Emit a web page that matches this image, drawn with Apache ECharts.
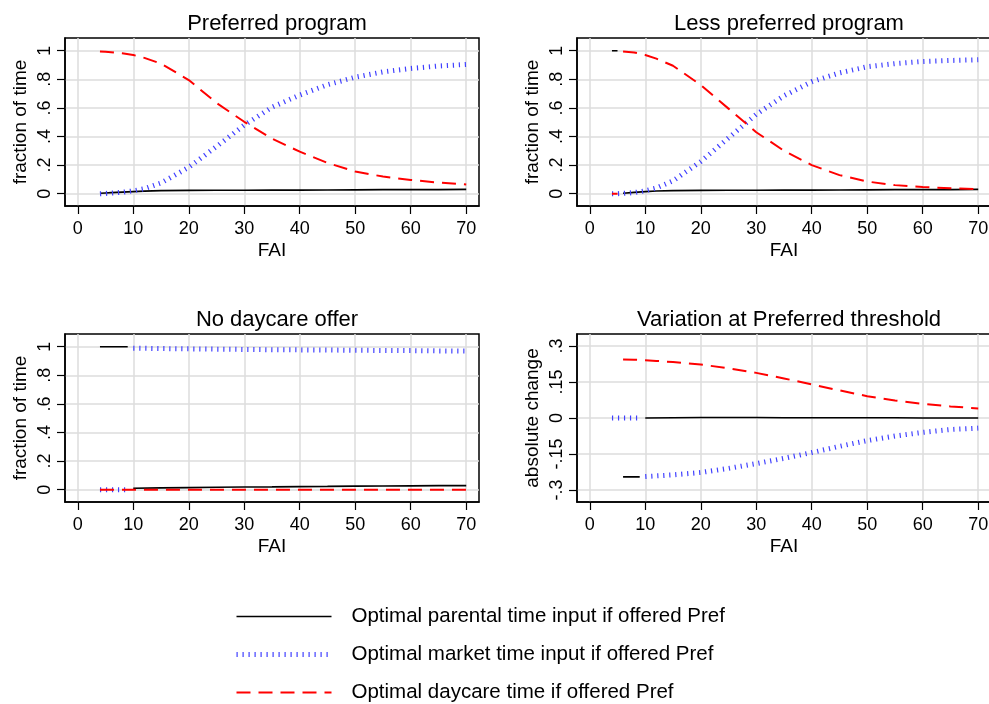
<!DOCTYPE html>
<html>
<head>
<meta charset="utf-8">
<script src="https://cdn.jsdelivr.net/npm/echarts@6/dist/echarts.min.js"></script>
<style>
html, body { margin: 0; padding: 0; background: #fff; }
#chart { width: 989px; height: 704px; }
</style>
</head>
<body>
<div id="chart"></div>
<script>
// FAI grids
var faiA = [4, 5, 6, 8, 10, 12, 15, 20, 25, 30, 35, 40, 45, 50, 55, 60, 65, 70];
var faiB = [6, 8, 10, 12, 15, 20, 25, 30, 35, 40, 45, 50, 55, 60, 65, 70];
var faiC = [10, 15, 20, 25, 30, 35, 40, 45, 50, 55, 60, 65, 70];
var faiLowA = [4, 5];
var faiLowB = [4, 5, 6, 7, 8, 9];
var faiLowC = [6, 7, 8, 9];

// Preferred program
var p1Parent = [0.003, 0.005, 0.007, 0.011, 0.015, 0.018, 0.021, 0.023, 0.024, 0.024, 0.025, 0.025, 0.026, 0.027, 0.028, 0.028, 0.029, 0.03];
var p1Market = [0, 0.002, 0.004, 0.01, 0.02, 0.035, 0.075, 0.185, 0.33, 0.48, 0.605, 0.69, 0.762, 0.815, 0.852, 0.876, 0.893, 0.904];
var p1Daycare = [0.995, 0.993, 0.99, 0.982, 0.97, 0.95, 0.91, 0.795, 0.635, 0.503, 0.385, 0.294, 0.215, 0.155, 0.12, 0.096, 0.078, 0.065];

// Less preferred program
var p2ParentLow = [1, 1];
var p2Parent = [0.003, 0.009, 0.015, 0.019, 0.022, 0.023, 0.024, 0.024, 0.025, 0.025, 0.026, 0.027, 0.028, 0.028, 0.029, 0.03];
var p2MarketLow = [0, 0];
var p2Market = [0.002, 0.008, 0.02, 0.04, 0.09, 0.225, 0.39, 0.555, 0.685, 0.783, 0.845, 0.888, 0.91, 0.925, 0.932, 0.937];
var p2DaycareLow = [0, 0];
var p2Daycare = [0.995, 0.988, 0.97, 0.945, 0.895, 0.76, 0.595, 0.43, 0.3, 0.2, 0.13, 0.085, 0.06, 0.047, 0.038, 0.032];

// No daycare offer
var p3ParentLow = [1, 1, 1, 1, 1, 1];
var p3Parent = [0.01, 0.013, 0.015, 0.017, 0.019, 0.02, 0.022, 0.023, 0.025, 0.026, 0.027, 0.028, 0.029];
var p3MarketLow = [0, 0, 0, 0, 0, 0];
var p3Market = [0.99, 0.987, 0.985, 0.983, 0.981, 0.979, 0.978, 0.977, 0.975, 0.974, 0.973, 0.971, 0.97];
var p3DaycareLow = [0, 0, 0, 0, 0, 0];
var p3Daycare = [0, 0, 0, 0, 0, 0, 0, 0, 0, 0, 0, 0, 0];

// Variation at Preferred threshold
var p4ParentLow = [-0.245, -0.245, -0.245, -0.245];
var p4Parent = [0, 0.001, 0.002, 0.002, 0.002, 0.001, 0.001, 0.001, 0.001, 0.001, 0, 0, 0];
var p4MarketLow = [0, 0, 0, 0, 0, 0];
var p4Market = [-0.244, -0.237, -0.227, -0.21, -0.19, -0.168, -0.144, -0.118, -0.094, -0.075, -0.06, -0.048, -0.042];
var p4Daycare = [0.244, 0.243, 0.241, 0.238, 0.233, 0.223, 0.207, 0.188, 0.165, 0.14, 0.115, 0.091, 0.073, 0.059, 0.048, 0.04];

var titles = ['Preferred program', 'Less preferred program', 'No daycare offer', 'Variation at Preferred threshold'];
var yNames = ['fraction of time', 'fraction of time', 'fraction of time', 'absolute change'];
var xTicks = [0, 10, 20, 30, 40, 50, 60, 70];
var yTicksFrac = [0, 0.2, 0.4, 0.6, 0.8, 1];
var yTicksChange = [-0.3, -0.15, 0, 0.15, 0.3];
var names = ['Optimal parental time input if offered Pref', 'Optimal market time input if offered Pref', 'Optimal daycare time if offered Pref'];

function zip(xs, ys) {
    var out = [];
    for (var i = 0; i < xs.length; i++) out.push([xs[i], ys[i]]);
    return out;
}
// two pieces with a gap between them
function joined(xs1, ys1, xs2, ys2) {
    var a = zip(xs1, ys1);
    a.push([xs1[xs1.length - 1], null]);
    return a.concat(zip(xs2, ys2));
}

var font = 'Liberation Sans, Arial, Helvetica, sans-serif';
var styles = [
    { color: '#000000', width: 1.7, type: 'solid' },
    { color: '#4040ff', width: 5, type: [1.2, 4.8] },
    { color: '#ff0000', width: 2, type: [14, 8] }
];

var panelData = [
    [zip(faiA, p1Parent), zip(faiA, p1Market), zip(faiA, p1Daycare)],
    [joined(faiLowA, p2ParentLow, faiB, p2Parent), zip(faiLowA, p2MarketLow).concat(zip(faiB, p2Market)), joined(faiLowA, p2DaycareLow, faiB, p2Daycare)],
    [joined(faiLowB, p3ParentLow, faiC, p3Parent), joined(faiLowB, p3MarketLow, faiC, p3Market), zip(faiLowB, p3DaycareLow).concat(zip(faiC, p3Daycare))],
    [joined(faiLowC, p4ParentLow, faiC, p4Parent), joined(faiLowB, p4MarketLow, faiC, p4Market), zip(faiB, p4Daycare)]
];

var lefts = [65, 577, 65, 577];
var tops = [38, 38, 334, 334];

function fmt(v) {
    if (Math.abs(v) < 1e-9) return '0';
    return String(+v.toFixed(2)).replace(/^(-?)0\./, '$1.');
}

var grids = [], xAxes = [], yAxes = [], titleOpts = [], series = [];
for (var p = 0; p < 4; p++) {
    grids.push({
        left: lefts[p], top: tops[p], width: 414, height: 168,
        show: true, borderColor: '#000', borderWidth: 1.5,
        containLabel: false, outerBoundsMode: 'none'
    });
    titleOpts.push({
        text: titles[p], left: lefts[p] + 207, top: tops[p] - 30, textAlign: 'center',
        textStyle: { fontFamily: font, fontSize: 22, fontWeight: 'normal', color: '#000' }
    });
    xAxes.push({
        type: 'value', gridIndex: p, min: -2.3, max: 72.3,
        name: 'FAI', nameLocation: 'middle', nameGap: 35,
        nameTextStyle: { fontFamily: font, fontSize: 19, color: '#000' },
        axisLine: { show: true, onZero: false, lineStyle: { color: '#000', width: 1.5 } },
        axisTick: { show: true, length: 8, lineStyle: { color: '#000', width: 1.2 }, customValues: xTicks },
        axisLabel: { fontFamily: font, fontSize: 18, color: '#000', margin: 14, customValues: xTicks },
        splitLine: { show: true, lineStyle: { color: '#dcdcdc', width: 1.5 } }
    });
    var isChange = p === 3;
    yAxes.push({
        type: 'value', gridIndex: p,
        min: isChange ? -0.35 : -0.086, max: isChange ? 0.35 : 1.089,
        name: yNames[p], nameLocation: 'middle', nameGap: 35,
        nameTextStyle: { fontFamily: font, fontSize: 19, color: '#000' },
        axisLine: { show: true, onZero: false, lineStyle: { color: '#000', width: 1.5 } },
        axisTick: { show: true, length: 8, lineStyle: { color: '#000', width: 1.2 }, customValues: isChange ? yTicksChange : yTicksFrac },
        axisLabel: { fontFamily: font, fontSize: 18, color: '#000', margin: 11, rotate: 90, formatter: fmt,
            customValues: isChange ? yTicksChange : yTicksFrac },
        splitLine: { show: true, lineStyle: { color: '#dcdcdc', width: 1.5 } }
    });
    for (var s = 0; s < 3; s++) {
        series.push({
            type: 'line', name: names[s], xAxisIndex: p, yAxisIndex: p,
            data: panelData[p][s], symbol: 'none', showSymbol: false,
            connectNulls: false, silent: true, animation: false,
            lineStyle: styles[s], itemStyle: { color: styles[s].color }, z: 2 + s
        });
    }
}

var legendData = names.map(function (n, i) {
    return { name: n, lineStyle: { width: styles[i].width, type: styles[i].type, color: styles[i].color } };
});

var chart = echarts.init(document.getElementById('chart'), null, { renderer: 'canvas' });
chart.setOption({
    backgroundColor: '#fff',
    animation: false,
    title: titleOpts,
    grid: grids,
    xAxis: xAxes,
    yAxis: yAxes,
    legend: {
        show: true,
        data: legendData, orient: 'vertical', left: 234, top: 606, padding: 0,
        itemWidth: 95, itemHeight: 14, itemGap: 17, selectedMode: false,
        itemStyle: { opacity: 0 },
        textStyle: { fontFamily: font, fontSize: 20.5, color: '#000', padding: [0, 0, 0, 15] }
    },
    series: series
});
</script>
</body>
</html>
